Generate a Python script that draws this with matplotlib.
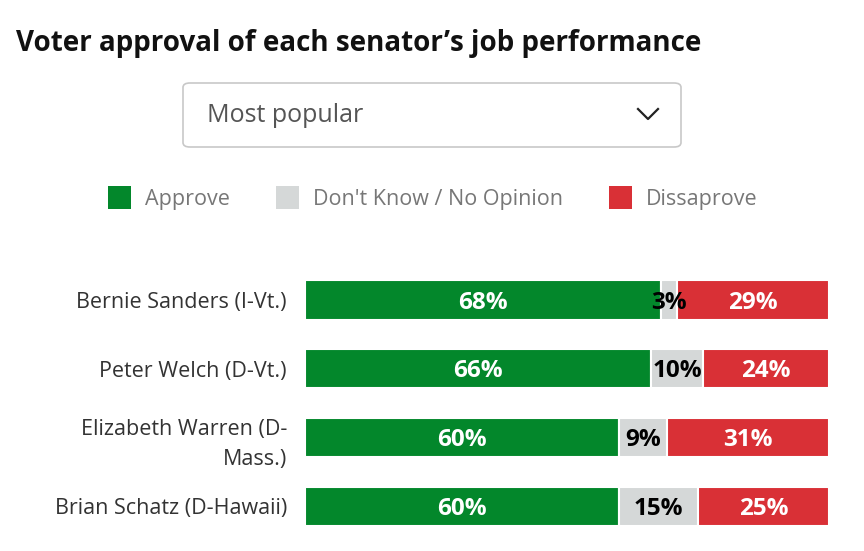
import matplotlib
matplotlib.use("Agg")
import matplotlib.pyplot as plt
from matplotlib.patches import FancyBboxPatch, Rectangle
from matplotlib.lines import Line2D

senators = ["Bernie Sanders (I-Vt.)", "Peter Welch (D-Vt.)",
            "Elizabeth Warren (D-\nMass.)", "Brian Schatz (D-Hawaii)"]
approve = [68, 66, 60, 60]
dont_know = [3, 10, 9, 15]
disapprove = [29, 24, 31, 25]
series_names = ["Approve", "Don't Know / No Opinion", "Dissaprove"]
colors = ["#03872B", "#D5D8D8", "#D93036"]
label_colors = ["white", "black", "white"]

W, H = 864, 551
plt.rcParams['font.family'] = ['Open Sans', 'DejaVu Sans']
fig = plt.figure(figsize=(W / 100, H / 100), dpi=100)
fig.patch.set_facecolor("white")


def fx(x):
    return x / W


def fy(y):
    return 1 - y / H


# Title
fig.text(fx(16), fy(44), "Voter approval of each senator\u2019s job performance",
         fontsize=20, fontweight="bold", color="#111111", va="center", ha="left")

# Dropdown box
box = FancyBboxPatch((fx(183), fy(147)), fx(681) - fx(183), fy(83) - fy(147),
                     boxstyle="round,pad=0,rounding_size=0.008",
                     transform=fig.transFigure, facecolor="white",
                     edgecolor="#C8C8C8", linewidth=1.2)
fig.patches.append(box)
fig.text(fx(207), fy(115), "Most popular", fontsize=18, color="#555555",
         va="center", ha="left")
fig.lines.append(Line2D([fx(638), fx(648), fx(658)], [fy(109), fy(119), fy(109)],
                        transform=fig.transFigure, color="#222222", linewidth=1.6))

# Legend
legend_x = [108, 276, 609]
for lx, name, c in zip(legend_x, series_names, colors):
    fig.patches.append(Rectangle((fx(lx), fy(209)), fx(23), fy(186) - fy(209),
                                 transform=fig.transFigure, facecolor=c,
                                 edgecolor="none"))
    fig.text(fx(lx + 37), fy(199), name, fontsize=15.5, color="#777777",
             va="center", ha="left")

# Bars
ax = fig.add_axes([fx(305), fy(535), fx(829) - fx(305), fy(270) - fy(535)])
ypos = list(range(len(senators)))
lefts = [0] * len(senators)
for vals, c, tc in zip([approve, dont_know, disapprove], colors, label_colors):
    bars = ax.barh(ypos, vals, left=lefts, height=0.57, color=c,
                   edgecolor="white", linewidth=1.5)
    for b, v in zip(bars, vals):
        ax.text(b.get_x() + b.get_width() / 2, b.get_y() + b.get_height() / 2 + 0.04,
                f"{v}%", ha="center", va="center", color=tc,
                fontsize=17.5, fontweight="bold")
    lefts = [l + v for l, v in zip(lefts, vals)]

ax.set_xlim(0, 100)
ax.set_ylim(3.42, -0.437)
ax.set_yticks(ypos)
ax.set_yticklabels(senators, fontsize=15.5, color="#333333", ha="right",
                   linespacing=1.55)
ax.tick_params(axis="y", length=0, pad=13)
ax.set_xticks([])
for s in ax.spines.values():
    s.set_visible(False)

fig.savefig("out.png", dpi=100, facecolor="white")
